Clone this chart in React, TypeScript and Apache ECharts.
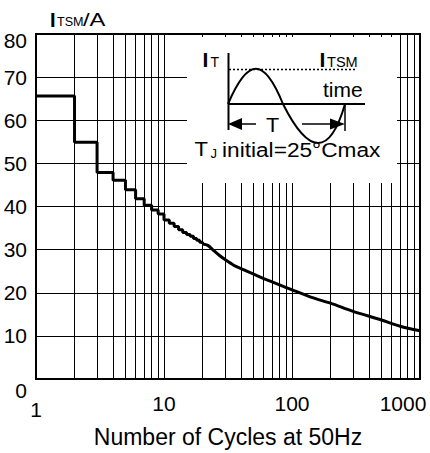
import React, { useEffect, useRef } from "react";
import * as echarts from "echarts";

// ---- data ----
const stepCycles = [1, 2, 3, 4, 5, 6, 7, 8, 9, 10, 11, 12, 13, 14, 15, 16, 17, 18, 19, 20];
const stepCurrent = [65.6, 54.9, 47.9, 46.1, 43.9, 41.8, 40.3, 39.2, 38.3, 36.9, 36.1, 35.4, 34.6, 34.0, 33.5, 33.1, 32.6, 32.2, 31.7, 31.3];
const curveCycles = [20, 22, 24, 27, 30, 35, 40, 56, 100, 140, 200, 300, 500, 700, 1000];
const curveCurrent = [31.3, 31.0, 30.0, 28.7, 27.7, 26.4, 25.6, 23.7, 20.7, 19.0, 17.6, 15.7, 13.7, 12.25, 11.2];
const xTickLabels = ["1", "10", "100", "1000"];
const yTickLabels = ["0", "10", "20", "30", "40", "50", "60", "70", "80"];
const minorGridCycles = [2, 3, 4, 5, 6, 7, 8, 9, 20, 30, 40, 50, 60, 70, 80, 90, 200, 300, 400, 500, 600, 700, 800, 900];

const FONT = '"Liberation Sans", Arial, Helvetica, sans-serif';

function txt(text: string, x: number, baseline: number, size: number, opts: { bold?: boolean; sx?: number; align?: string } = {}) {
  return {
    type: "text",
    x,
    y: baseline - 0.35 * size,
    z: 110,
    scaleX: opts.sx ?? 1,
    style: {
      text,
      fill: "#000",
      fontSize: size,
      fontFamily: FONT,
      fontWeight: opts.bold ? "bold" : "normal",
      align: opts.align ?? "left",
      textAlign: opts.align ?? "left",
      verticalAlign: "middle",
      textVerticalAlign: "middle",
    },
  };
}

function seg(x1: number, y1: number, x2: number, y2: number, w: number, dash?: number[]) {
  return {
    type: "line",
    z: 110,
    shape: { x1, y1, x2, y2 },
    style: { stroke: "#000", lineWidth: w, lineDash: dash },
  };
}

export default function App() {
  const ref = useRef<HTMLDivElement>(null);
  useEffect(() => {
    document.body.style.margin = "0";
    const chart = echarts.init(ref.current!, null, { renderer: "svg" });
    const option: any = {
      animation: false,
      backgroundColor: "#fff",
      grid: {
        left: 36,
        right: 10,
        top: 34,
        bottom: 68,
        show: true,
        borderColor: "#000",
        borderWidth: 2,
        backgroundColor: "transparent",
      },
      xAxis: {
        type: "log",
        logBase: 10,
        min: 1,
        max: 1000,
        axisLine: { show: true, onZero: false, lineStyle: { color: "#000", width: 2 } },
        axisTick: { show: false },
        splitLine: { show: true, lineStyle: { color: "#000", width: 1 } },
        axisLabel: {
          color: "#000",
          fontSize: 21,
          fontFamily: FONT,
          margin: 14,
          formatter: (v: number) => {
            const i = Math.round(Math.log10(v));
            const s = xTickLabels[i] ?? "";
            if (i === 0) return `{one|${s}}`;
            if (i === xTickLabels.length - 1) return `{last|${s}}`;
            return `{n|${s}}`;
          },
          rich: {
            one: { fontSize: 21, fontFamily: FONT, color: "#000", padding: [6, 0, 0, 0] },
            n: { fontSize: 21, fontFamily: FONT, color: "#000" },
            last: { fontSize: 21, fontFamily: FONT, color: "#000", padding: [0, 34, 0, 0] },
          },
        },
        name: "Number of Cycles at 50Hz",
        nameLocation: "middle",
        nameGap: 43,
        nameTextStyle: { color: "#000", fontSize: 23, fontFamily: FONT },
      },
      yAxis: {
        type: "value",
        min: 0,
        max: 80,
        interval: 10,
        axisLine: { show: true, lineStyle: { color: "#000", width: 2 } },
        axisTick: { show: false },
        splitLine: { show: true, lineStyle: { color: "#000", width: 1 } },
        axisLabel: {
          color: "#000",
          fontSize: 21,
          fontFamily: FONT,
          margin: 9,
          formatter: (v: number) => {
            const i = Math.round(v / 10);
            const s = yTickLabels[i] ?? "";
            if (i === 0) return `{z|${s}}`;
            if (i === yTickLabels.length - 1) return `{t|${s}}`;
            return `{n|${s}}`;
          },
          rich: {
            z: { fontSize: 21, fontFamily: FONT, color: "#000", padding: [22, 0, 0, 0] },
            t: { fontSize: 21, fontFamily: FONT, color: "#000", padding: [13, 0, 0, 0] },
            n: { fontSize: 21, fontFamily: FONT, color: "#000" },
          },
        },
      },
      series: [
        {
          type: "line",
          step: "end",
          symbol: "none",
          data: stepCycles.map((c, i) => [c, stepCurrent[i]]),
          lineStyle: { color: "#000", width: 3 },
          markLine: {
            silent: true,
            symbol: ["none", "none"],
            label: { show: false },
            lineStyle: { color: "#000", width: 1, type: "solid" },
            emphasis: { disabled: true },
            data: minorGridCycles.map((v) => ({ xAxis: v })),
          },
        },
        {
          type: "line",
          smooth: 0.3,
          symbol: "none",
          data: curveCycles.map((c, i) => [c, curveCurrent[i]]),
          lineStyle: { color: "#000", width: 3 },
        },
      ],
      graphic: {
        elements: [
          { type: "rect", z: 100, shape: { x: 187, y: 37, width: 210, height: 146 }, style: { fill: "#fff", stroke: null } },
          // y-axis name
          txt("I", 50, 26.5, 20, { bold: true }),
          txt("TSM", 57, 26.5, 12, { sx: 1.05 }),
          txt("/A", 83, 26.5, 19, { sx: 1.25 }),
          // inset axes
          seg(228.5, 53, 228.5, 130, 2),
          seg(228, 104, 365, 104, 2),
          seg(229, 69.5, 357, 69.5, 1.5, [2, 2]),
          {
            type: "bezierCurve",
            z: 110,
            shape: { x1: 228, y1: 104, cpx1: 248, cpy1: 57, cpx2: 264, cpy2: 57, x2: 283, y2: 104 },
            style: { stroke: "#000", lineWidth: 2, fill: null },
          },
          {
            type: "bezierCurve",
            z: 110,
            shape: { x1: 283, y1: 104, cpx1: 309, cpx2: 330, cpy1: 156, cpy2: 156, x2: 345, y2: 104 },
            style: { stroke: "#000", lineWidth: 2, fill: null },
          },
          seg(345, 104, 345, 131, 1.5),
          seg(232, 124, 256, 124, 1.5),
          seg(302, 124, 340, 124, 1.5),
          { type: "polygon", z: 110, shape: { points: [[228, 124], [242, 118], [242, 130]] }, style: { fill: "#000" } },
          { type: "polygon", z: 110, shape: { points: [[345, 124], [330, 118.5], [330, 129.5]] }, style: { fill: "#000" } },
          txt("T", 266, 131.5, 20, { sx: 1.08 }),
          txt("I", 202.5, 66.7, 21, { bold: true }),
          txt("T", 210.5, 66.7, 14),
          txt("I", 319.5, 66.7, 21, { bold: true }),
          txt("TSM", 327, 66.7, 14, { sx: 1.04 }),
          txt("time", 323, 96.7, 21),
          txt("T", 194.5, 156.7, 21, { sx: 1.05 }),
          txt("J", 210.5, 158, 13),
          txt("initial=25°Cmax", 222, 156.7, 21, { sx: 1.08 }),
        ],
      },
    };
    chart.setOption(option);
    return () => chart.dispose();
  }, []);
  return <div ref={ref} style={{ position: "absolute", left: 0, top: 0, width: 430, height: 453 }} />;
}
